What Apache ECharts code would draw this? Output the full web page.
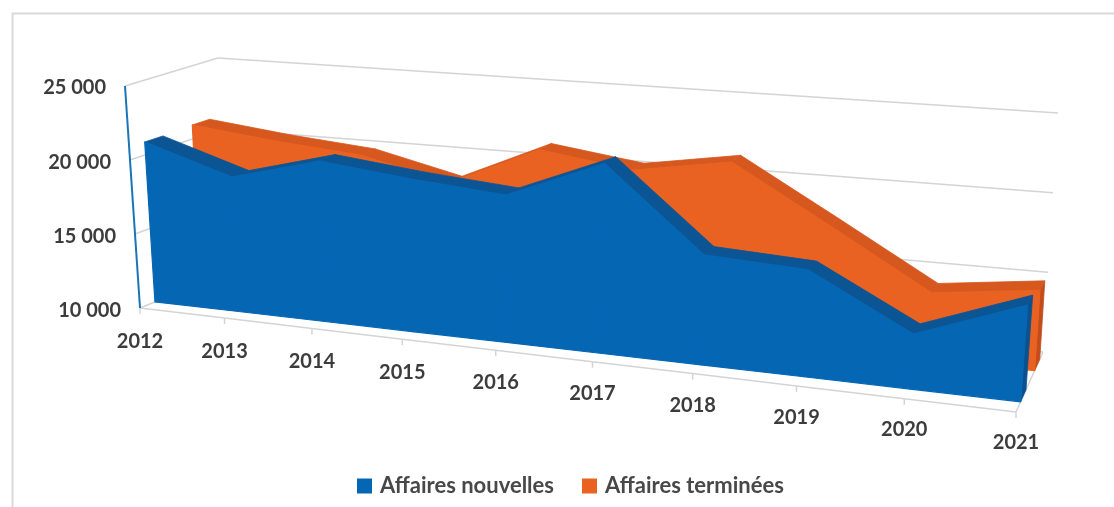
<!DOCTYPE html>
<html><head><meta charset="utf-8">
<style>html,body{margin:0;padding:0;background:#fff}#c{width:1114px;height:507px}</style>
<script src="https://cdn.jsdelivr.net/npm/echarts@6/dist/echarts.min.js"></script>
</head><body><div id="c"></div>
<script>
const categories = ['2012','2013','2014','2015','2016','2017','2018','2019','2020','2021'];
const nouvelles = [20870,18975,20510,19820,19300,21750,16670,16350,13200,15520];
const terminees = [20960,20290,19780,18390,21040,20200,21190,17650,14090,14850];
const valueTicks = [10000,15000,20000,25000];
const tickLabels = ['10 000','15 000','20 000','25 000'];

// view box of the 3D scene: corner[f][t][d] on screen
const C = {
  '000':[140,308],'100':[1016,412],'010':[125,86],'110':[1036,144],
  '001':[228,272],'101':[1043,352],'011':[218,58],'111':[1058,113]
};
const K = 0.17;
const G = {left:200,top:100,width:700,height:300};
const FONT = 'Lato';
const TXT = '#3c3c3c';

function project(f,t,d){
  const out=[0,0];
  for(const key in C){
    const w=(key[0]==='1'?f:1-f)*(key[1]==='1'?t:1-t)*(key[2]==='1'?d:1-d);
    out[0]+=w*C[key][0]; out[1]+=w*C[key][1];
  }
  return out;
}
// grid pixel from the library's scales -> normalised position -> scene
function norm(api,i,v){
  const p=api.coord([i,v]);
  const s=(p[0]-G.left)/G.width, t=(G.top+G.height-p[1])/G.height;
  return {f:s/(1+K*(1-s)),t};
}
function scene(api,i,v,d){const n=norm(api,i,v);return project(n.f,n.t,d);}

function areaSeries(name,values,color,dark,side,d0,d1){
  return {
    name,type:'custom',coordinateSystem:'cartesian2d',clip:false,
    itemStyle:{color},encode:{x:0,y:1},
    data:values.map((v,i)=>[i,v]),
    renderItem(params,api){
      const i=params.dataIndex, ch=[], v=values[i];
      const poly=(pts,c,z,lw)=>({type:'polygon',z2:z,shape:{points:pts},style:{fill:c,stroke:c,lineWidth:lw,lineJoin:'round'}});
      if(i<values.length-1){
        const w=values[i+1];
        ch.push(poly([scene(api,i,v,d0),scene(api,i+1,w,d0),scene(api,i+1,w,d1),scene(api,i,v,d1)],dark,2,0.8));
        ch.push(poly([scene(api,i,v,d0),scene(api,i+1,w,d0),scene(api,i+1,10000,d0),scene(api,i,10000,d0)],color,3,1.2));
      }else{
        ch.push(poly([scene(api,i,v,d0),scene(api,i,v,d1),scene(api,i,10000,d1),scene(api,i,10000,d0)],side,1,0.8));
      }
      return {type:'group',children:ch};
    }
  };
}

const option={
  animation:false,backgroundColor:'#fff',
  graphic:[{type:'polyline',silent:true,shape:{points:[[12.5,507],[12.5,13.5],[1114,13.5]]},style:{stroke:'#d9d9d9',lineWidth:2,fill:null}}],
  grid:{left:G.left,top:G.top,width:G.width,height:G.height},
  xAxis:{type:'category',data:categories,boundaryGap:false,show:false},
  yAxis:{type:'value',min:10000,max:25000,interval:5000,show:false},
  legend:{data:['Affaires nouvelles','Affaires terminées'],left:352,top:470,icon:'rect',itemWidth:15,itemHeight:15,itemGap:28,
    textStyle:{fontFamily:FONT,fontWeight:'bold',fontSize:22,color:'#484848',padding:[0,0,0,3]}},
  series:[
    {name:'grille',type:'custom',coordinateSystem:'cartesian2d',clip:false,silent:true,z:1,
      data:valueTicks.map((v,i)=>[0,v,i]),
      renderItem(params,api){
        const i=params.dataIndex,v=valueTicks[i];
        const line=(a,b)=>({type:'line',shape:{x1:a[0],y1:a[1],x2:b[0],y2:b[1]},style:{stroke:'#d4d4d4',lineWidth:1.5}});
        const a=scene(api,0,v,0),b=scene(api,0,v,1),c=scene(api,9,v,1);
        const ch=[line(a,b),line(b,c)];
        ch.push({type:'text',style:{text:tickLabels[i],x:a[0]-19,y:a[1]+(i===3?2:3),align:'right',verticalAlign:'middle',fontFamily:FONT,fontWeight:'bold',fontSize:20,fill:TXT}});
        return {type:'group',children:ch};
      }},
    {name:'axe',type:'custom',coordinateSystem:'cartesian2d',clip:false,silent:true,z:1,
      data:categories.map((c,i)=>[i,10000]),
      renderItem(params,api){
        const i=params.dataIndex,p=scene(api,i,10000,0),ch=[];
        const st={stroke:'#d4d4d4',lineWidth:1.5};
        ch.push({type:'line',shape:{x1:p[0],y1:p[1],x2:p[0],y2:p[1]+6},style:st});
        if(i<categories.length-1){const q=scene(api,i+1,10000,0);ch.push({type:'line',shape:{x1:p[0],y1:p[1],x2:q[0],y2:q[1]},style:st});}
        else{const q=scene(api,i,10000,1);ch.push({type:'line',shape:{x1:p[0],y1:p[1],x2:q[0],y2:q[1]},style:st});}
        ch.push({type:'text',style:{text:categories[i],x:p[0],y:p[1]+34-i*0.35,align:'center',verticalAlign:'middle',fontFamily:FONT,fontWeight:'bold',fontSize:20,fill:TXT}});
        return {type:'group',children:ch};
      }},
    Object.assign(areaSeries('Affaires terminées',terminees,'#e96221','#d6581f','#c24c1c',0.69,0.88),{z:2}),
    Object.assign(areaSeries('Affaires nouvelles',nouvelles,'#0567b4','#0b5595','#0b5190',0.17,0.37),{z:3}),
    {name:'axe vertical',type:'custom',coordinateSystem:'cartesian2d',clip:false,silent:true,z:4,
      data:[[0,10000]],
      renderItem(params,api){
        const a=scene(api,0,10000,0),b=scene(api,0,25000,0);
        return {type:'line',shape:{x1:a[0],y1:a[1],x2:b[0],y2:b[1]},style:{stroke:'#1a75b8',lineWidth:2}};
      }}
  ]
};
echarts.init(document.getElementById('c'),null,{renderer:'canvas'}).setOption(option);
</script></body></html>
